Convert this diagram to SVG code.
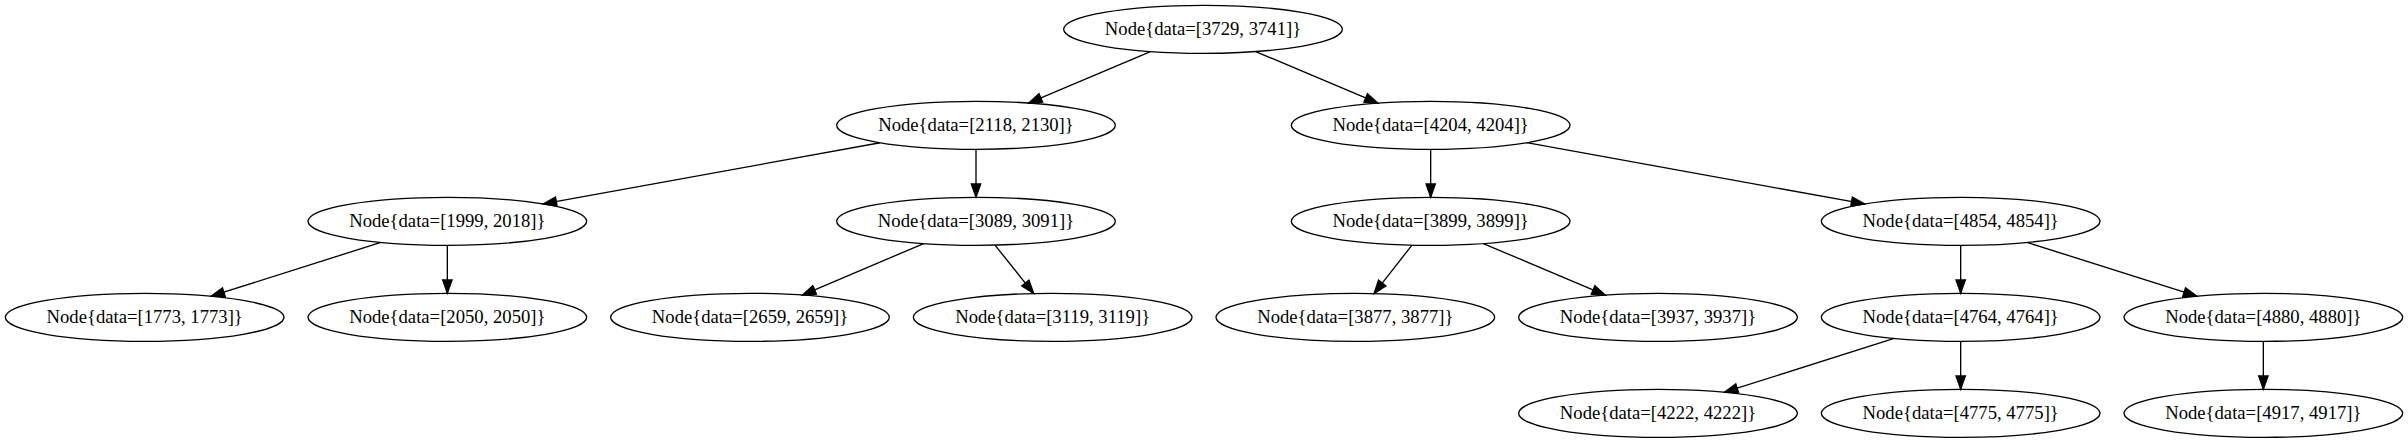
<svg xmlns="http://www.w3.org/2000/svg" width="2408" height="443" viewBox="0 0 2408 443">
<style>
.n ellipse{fill:none;stroke:#000;stroke-width:1.33}
.n text{font-family:"Liberation Serif","Times New Roman",serif;font-size:18.67px;text-anchor:middle;fill:#000}
#edges line{stroke:#000;stroke-width:1.33;marker-end:url(#arr)}
</style>
<defs>
<marker id="arr" markerUnits="userSpaceOnUse" markerWidth="14" markerHeight="10" refX="13.33" refY="4.67" orient="auto" viewBox="0 0 14 10" overflow="visible">
<path d="M0,0 L13.33,4.67 L0,9.33 Z" fill="#000" stroke="#000" stroke-width="1.33"/>
</marker>
</defs>
<rect width="2408" height="443" fill="#fff"/>
<g id="edges">
<line x1="1150.44" y1="51.56" x2="1028.56" y2="103.10"/>
<line x1="1255.69" y1="51.55" x2="1377.98" y2="103.11"/>
<line x1="880.11" y1="142.74" x2="543.22" y2="203.92"/>
<line x1="976" y1="149.33" x2="976" y2="197.33"/>
<line x1="1430.67" y1="149.33" x2="1430.67" y2="197.33"/>
<line x1="1526.69" y1="142.72" x2="1864.65" y2="203.94"/>
<line x1="380.84" y1="242.42" x2="211.16" y2="296.24"/>
<line x1="447.33" y1="245.33" x2="447.33" y2="293.33"/>
<line x1="923.64" y1="243.57" x2="802.36" y2="295.09"/>
<line x1="994.99" y1="245.11" x2="1033.68" y2="293.55"/>
<line x1="1412.0" y1="245.11" x2="1374.0" y2="293.55"/>
<line x1="1483.29" y1="243.55" x2="1605.38" y2="295.11"/>
<line x1="1960.67" y1="245.33" x2="1960.67" y2="293.33"/>
<line x1="2027.16" y1="242.42" x2="2196.84" y2="296.24"/>
<line x1="1894.18" y1="338.42" x2="1724.49" y2="392.24"/>
<line x1="1960.67" y1="341.33" x2="1960.67" y2="389.33"/>
<line x1="2263.33" y1="341.33" x2="2263.33" y2="389.33"/>
</g>
<g id="n3729" class="n"><ellipse cx="1203" cy="29.33" rx="139.33" ry="24"/><text x="1203" y="34.93">Node{data=[3729, 3741]}</text></g>
<g id="n2118" class="n"><ellipse cx="976" cy="125.33" rx="139.33" ry="24"/><text x="976" y="130.93">Node{data=[2118, 2130]}</text></g>
<g id="n4204" class="n"><ellipse cx="1430.67" cy="125.33" rx="139.33" ry="24"/><text x="1430.67" y="130.93">Node{data=[4204, 4204]}</text></g>
<g id="n1999" class="n"><ellipse cx="447.33" cy="221.33" rx="139.33" ry="24"/><text x="447.33" y="226.93">Node{data=[1999, 2018]}</text></g>
<g id="n3089" class="n"><ellipse cx="976" cy="221.33" rx="139.33" ry="24"/><text x="976" y="226.93">Node{data=[3089, 3091]}</text></g>
<g id="n3899" class="n"><ellipse cx="1430.67" cy="221.33" rx="139.33" ry="24"/><text x="1430.67" y="226.93">Node{data=[3899, 3899]}</text></g>
<g id="n4854" class="n"><ellipse cx="1960.67" cy="221.33" rx="139.33" ry="24"/><text x="1960.67" y="226.93">Node{data=[4854, 4854]}</text></g>
<g id="n1773" class="n"><ellipse cx="144.67" cy="317.33" rx="139.33" ry="24"/><text x="144.67" y="322.93">Node{data=[1773, 1773]}</text></g>
<g id="n2050" class="n"><ellipse cx="447.33" cy="317.33" rx="139.33" ry="24"/><text x="447.33" y="322.93">Node{data=[2050, 2050]}</text></g>
<g id="n2659" class="n"><ellipse cx="750" cy="317.33" rx="139.33" ry="24"/><text x="750" y="322.93">Node{data=[2659, 2659]}</text></g>
<g id="n3119" class="n"><ellipse cx="1052.67" cy="317.33" rx="139.33" ry="24"/><text x="1052.67" y="322.93">Node{data=[3119, 3119]}</text></g>
<g id="n3877" class="n"><ellipse cx="1355.33" cy="317.33" rx="139.33" ry="24"/><text x="1355.33" y="322.93">Node{data=[3877, 3877]}</text></g>
<g id="n3937" class="n"><ellipse cx="1658" cy="317.33" rx="139.33" ry="24"/><text x="1658" y="322.93">Node{data=[3937, 3937]}</text></g>
<g id="n4764" class="n"><ellipse cx="1960.67" cy="317.33" rx="139.33" ry="24"/><text x="1960.67" y="322.93">Node{data=[4764, 4764]}</text></g>
<g id="n4880" class="n"><ellipse cx="2263.33" cy="317.33" rx="139.33" ry="24"/><text x="2263.33" y="322.93">Node{data=[4880, 4880]}</text></g>
<g id="n4222" class="n"><ellipse cx="1658" cy="413.33" rx="139.33" ry="24"/><text x="1658" y="418.93">Node{data=[4222, 4222]}</text></g>
<g id="n4775" class="n"><ellipse cx="1960.67" cy="413.33" rx="139.33" ry="24"/><text x="1960.67" y="418.93">Node{data=[4775, 4775]}</text></g>
<g id="n4917" class="n"><ellipse cx="2263.33" cy="413.33" rx="139.33" ry="24"/><text x="2263.33" y="418.93">Node{data=[4917, 4917]}</text></g>
</svg>
